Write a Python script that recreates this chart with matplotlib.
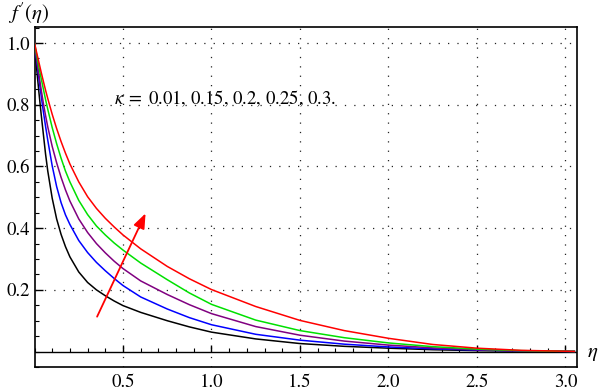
import matplotlib
matplotlib.use("Agg")
import matplotlib.pyplot as plt
from matplotlib.ticker import MultipleLocator

plt.rcParams['mathtext.fontset'] = 'stix'
plt.rcParams['font.family'] = ['STIXGeneral', 'DejaVu Serif']

eta = [0, 0.0125, 0.025, 0.0375, 0.05, 0.0625, 0.075, 0.1, 0.125, 0.15, 0.175, 0.2,
       0.25, 0.3, 0.35, 0.4, 0.45, 0.5, 0.6, 0.75, 0.875, 1.0, 1.25, 1.5, 1.75,
       2.0, 2.25, 2.5, 2.75, 3.05]
kappas = ["0.01", "0.15", "0.2", "0.25", "0.3"]
f_k001 = [1.0, 0.915, 0.84, 0.77, 0.705, 0.64, 0.585, 0.497, 0.43, 0.38, 0.34, 0.307,
          0.258, 0.224, 0.2, 0.181, 0.164, 0.149, 0.127, 0.1, 0.08, 0.063, 0.041, 0.026, 0.017,
          0.011, 0.006, 0.003, 0.0015, 0.0005]
f_k015 = [1.0, 0.94, 0.885, 0.83, 0.778, 0.73, 0.685, 0.602, 0.535, 0.483, 0.443, 0.412,
          0.36, 0.321, 0.289, 0.262, 0.237, 0.214, 0.177, 0.138, 0.11, 0.087, 0.056, 0.037, 0.024,
          0.015, 0.009, 0.005, 0.002, 0.0005]
f_k020 = [1.0, 0.947, 0.897, 0.85, 0.805, 0.765, 0.728, 0.665, 0.612, 0.565, 0.524, 0.488,
          0.43, 0.386, 0.35, 0.32, 0.293, 0.269, 0.229, 0.185, 0.152, 0.123, 0.081, 0.053, 0.034,
          0.021, 0.012, 0.006, 0.002, 0.0005]
f_k025 = [1.0, 0.96, 0.922, 0.886, 0.851, 0.817, 0.785, 0.726, 0.674, 0.627, 0.585, 0.55,
          0.49, 0.444, 0.407, 0.378, 0.352, 0.329, 0.287, 0.233, 0.19, 0.153, 0.102, 0.068, 0.045,
          0.028, 0.016, 0.008, 0.003, 0.0005]
f_k030 = [1.0, 0.968, 0.937, 0.906, 0.876, 0.847, 0.82, 0.769, 0.723, 0.681, 0.643, 0.608,
          0.55, 0.502, 0.464, 0.432, 0.404, 0.378, 0.333, 0.276, 0.236, 0.201, 0.146, 0.101, 0.068,
          0.043, 0.023, 0.011, 0.004, 0.0005]
series = [f_k001, f_k015, f_k020, f_k025, f_k030]
colors = ['#000000', '#0000ff', '#800080', '#00e000', '#ff0000']

fig = plt.figure(figsize=(6.0, 3.92), dpi=100)
ax = fig.add_axes([34.5/600, 1-367/392, (577-34.5)/600, (367-27)/392])
x0, x1 = 0.0, 3.065
y0, y1 = -0.050, 1.052
ax.set_xlim(x0, x1)
ax.set_ylim(y0, y1)

# grid
for gx in [0.5, 1.0, 1.5, 2.0, 2.5, 3.0]:
    ax.axvline(gx, color='#222222', lw=0.9, dashes=(1, 6.5), zorder=0)
for gy in [0.2, 0.4, 0.6, 0.8, 1.0]:
    ax.axhline(gy, color='#222222', lw=0.9, dashes=(1, 6.5), zorder=0)

for s, c in zip(series, colors):
    ax.plot(eta, s, color=c, lw=1.1, zorder=3, solid_joinstyle='round')

ax.axhline(0, color='black', lw=1.0, zorder=2)

# frame
for sp in ax.spines.values():
    sp.set_linewidth(1.2)
ax.set_xticks([0.5, 1.0, 1.5, 2.0, 2.5, 3.0])
ax.set_xticklabels(["0.5", "1.0", "1.5", "2.0", "2.5", "3.0"])
ax.tick_params(axis='x', length=0, pad=5, labelsize=13.5)
ax.set_yticks([0.2, 0.4, 0.6, 0.8, 1.0])
ax.set_yticklabels(["0.2", "0.4", "0.6", "0.8", "1.0"])
ax.yaxis.set_minor_locator(MultipleLocator(0.05))
ax.tick_params(axis='y', which='major', direction='in', length=6, width=1.0, labelsize=13.5, pad=3)
ax.tick_params(axis='y', which='minor', direction='in', length=3, width=0.8)

# ticks on the eta axis line (y = 0)
frac = (0 - y0) / (y1 - y0)
sec = ax.secondary_xaxis(frac)
sec.set_xticks([0.5, 1.0, 1.5, 2.0, 2.5, 3.0])
sec.xaxis.set_minor_locator(MultipleLocator(0.1))
for sp in sec.spines.values():
    sp.set_visible(False)
sec.xaxis.set_ticks_position('top')
sec.tick_params(axis='x', which='major', direction='out', length=5, width=1.0, labeltop=False, labelbottom=False)
sec.tick_params(axis='x', which='minor', direction='out', length=3, width=0.8)

# arrow
ax.annotate('', xy=(0.634, 0.456), xytext=(0.347, 0.105),
            arrowprops=dict(arrowstyle='-|>,head_length=0.9,head_width=0.35', color='#ff0000', lw=1.3))

ax.text(0.45, 0.82, r"$\kappa\;=\;$0.01, 0.15, 0.2, 0.25, 0.3.", fontsize=13.5, va='center', ha='left')

fig.text(8/600, 1-13/392, r"$f\,'(\eta)$", fontsize=15, va='center', ha='left')
fig.text(593/600, 1-353/392, r"$\eta$", fontsize=15, va='center', ha='center')

fig.savefig("out.png", dpi=100)
